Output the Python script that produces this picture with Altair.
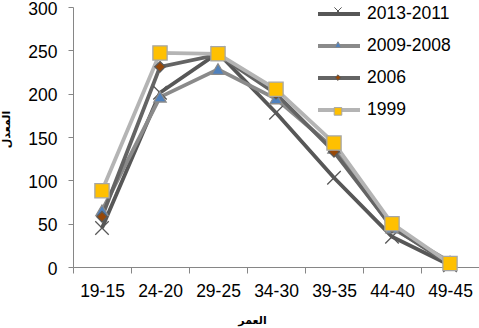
import altair as alt
import pandas as pd

# ---- data ----
ages = ["19-15", "24-20", "29-25", "34-30", "39-35", "44-40", "49-45"]
series = ["2013-2011", "2009-2008", "2006", "1999"]
v_2013_2011 = [45, 201, 247, 178, 103, 35, 2]
v_2009_2008 = [65, 196, 228, 194, 137, 45, 6]
v_2006 = [58, 231, 245, 200, 133, 46, 3]
v_1999 = [88, 247, 246, 205, 143, 50, 4]
y_ticks = [0, 50, 100, 150, 200, 250, 300]

# ---- styles ----
line_colors = ["#575757", "#8A8A8A", "#646464", "#B4B4B4"]
fill_colors = ["#575757", "#4F81BD", "#984807", "#FFC000"]
edge_colors = ["#575757", "#8A8A8A", "#5A5A5A", "#A6A6A6"]
shape_paths = [
    "M-0.9,-0.9L0.9,0.9M-0.9,0.9L0.9,-0.9",
    "M0,-0.75L0.82,0.65L-0.82,0.65Z",
    "M0,-0.7L0.7,0L0,0.7L-0.7,0Z",
    "M-0.95,-0.95H0.95V0.95H-0.95Z",
]

values = [v_2013_2011, v_2009_2008, v_2006, v_1999]
rows = []
for s, vals in zip(series, values):
    for a, v in zip(ages, vals):
        rows.append({"age": a, "value": v, "series": s})
df = pd.DataFrame(rows)

LABEL_FONT = "Liberation Sans"
LABEL_SIZE = 17.5
AXIS_GRAY = "#868686"
LINE_W = 3.8

x_enc = alt.X(
    "age:N",
    sort=ages,
    scale=alt.Scale(type="band", paddingInner=0, paddingOuter=0),
    bandPosition=0.5,
    axis=alt.Axis(
        title="العمر",
        tickBand="extent",
        labelAngle=0,
        labelFont=LABEL_FONT,
        labelFontSize=LABEL_SIZE,
        labelColor="black",
        labelPadding=9,
        tickSize=6,
        tickColor=AXIS_GRAY,
        domainColor=AXIS_GRAY,
        grid=False,
        titleFont="DejaVu Sans",
        titleFontSize=11,
        titleFontWeight="bold",
        titleColor="black",
        titleX=179,
        titleY=53,
        titleAlign="center",
        titleBaseline="middle",
    ),
)
y_enc = alt.Y(
    "value:Q",
    scale=alt.Scale(domain=[0, 300], nice=False, zero=True),
    axis=alt.Axis(
        values=y_ticks,
        title="المعدل",
        labelFont=LABEL_FONT,
        labelFontSize=LABEL_SIZE,
        labelColor="black",
        labelPadding=11,
        labelOffset=2,
        tickSize=5,
        tickColor=AXIS_GRAY,
        domainColor=AXIS_GRAY,
        grid=False,
        titleFont="DejaVu Sans",
        titleFontSize=11,
        titleFontWeight="bold",
        titleColor="black",
        titleX=-67,
        titleY=122,
        titleAngle=270,
        titleAlign="center",
        titleBaseline="middle",
    ),
)

lines = alt.Chart(df).mark_line(strokeWidth=LINE_W).encode(
    x=x_enc,
    y=y_enc,
    color=alt.Color(
        "series:N",
        sort="descending",
        scale=alt.Scale(range=line_colors),
        legend=alt.Legend(
            orient="none",
            title=None,
            padding=0,
            legendX=243,
            legendY=-16,
            rowPadding=-9.5,
            symbolType="stroke",
            symbolSize=1764,
            symbolStrokeWidth=LINE_W,
            labelOffset=5,
            labelFont=LABEL_FONT,
            labelFontSize=LABEL_SIZE,
            labelColor="black",
        ),
    ),
)

pt_legend = alt.Legend(
    orient="none",
    title=None,
    padding=0,
    legendX=260,
    legendY=-1,
    rowPadding=22.8,
    symbolSize=64,
    symbolStrokeWidth=1,
    labelExpr="''",
    labelOffset=0,
)

points = (
    alt.Chart(df)
    .transform_calculate(s2="datum.series")
    .mark_point(filled=True, size=225, strokeWidth=1.3, opacity=1)
    .encode(
        x=x_enc,
        y=y_enc,
        shape=alt.Shape("s2:N", sort="descending", scale=alt.Scale(range=shape_paths), legend=pt_legend),
        fill=alt.Fill("s2:N", sort="descending", scale=alt.Scale(range=fill_colors), legend=pt_legend),
        stroke=alt.Stroke("s2:N", sort="descending", scale=alt.Scale(range=edge_colors), legend=pt_legend),
    )
)

chart = (
    alt.layer(lines, points)
    .properties(
        width=406,
        height=260,
        autosize=alt.AutoSizeParams(type="none"),
        padding={"left": 73, "top": 7, "right": 0, "bottom": 61},
        background="white",
    )
    .configure_view(stroke=None)
)

chart.save("out.html", embed_options={"renderer": "svg", "actions": False})
